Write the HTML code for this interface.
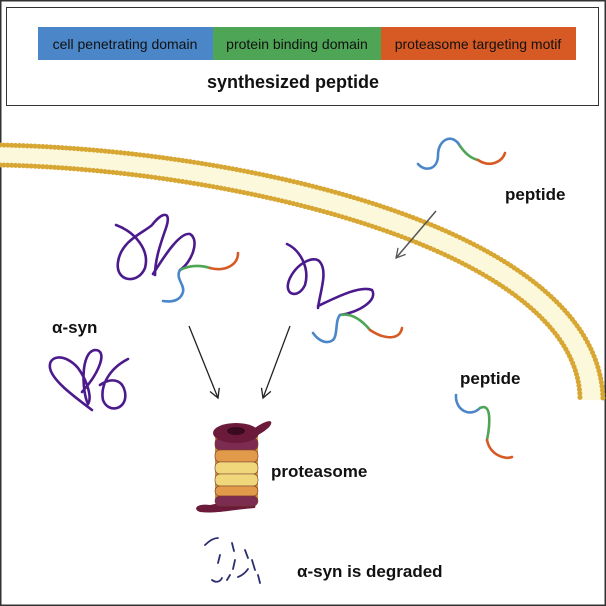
<!DOCTYPE html>
<html><head><meta charset="utf-8"><style>
html,body{margin:0;padding:0;background:#fff}
svg{display:block}
text{font-family:"Liberation Sans",Arial,sans-serif}
</style></head><body>
<svg width="606" height="606" viewBox="0 0 606 606" xmlns="http://www.w3.org/2000/svg">
<defs>
<marker id="ah" markerWidth="12" markerHeight="12" refX="10" refY="6" orient="auto" markerUnits="userSpaceOnUse">
<path d="M1,1 L10,6 L1,11" fill="none" stroke="#222" stroke-width="1.3"/></marker>
<marker id="ahg" markerWidth="12" markerHeight="12" refX="10" refY="6" orient="auto" markerUnits="userSpaceOnUse">
<path d="M1,1 L10,6 L1,11" fill="none" stroke="#555" stroke-width="1.3"/></marker>
</defs>
<rect x="0.5" y="0.5" width="605" height="605" fill="#fff" stroke="#333" stroke-width="2"/>
<rect x="6.5" y="7.5" width="592" height="98" fill="#fff" stroke="#333" stroke-width="1"/>
<rect x="38" y="27" width="175" height="33" fill="#4a86c8"/>
<rect x="213" y="27" width="168" height="33" fill="#4ea556"/>
<rect x="381" y="27" width="195" height="33" fill="#d75a25"/>
<text x="125" y="49" font-size="14" text-anchor="middle" fill="#111">cell penetrating domain</text>
<text x="297" y="49" font-size="14" text-anchor="middle" fill="#111">protein binding domain</text>
<text x="478" y="49" font-size="14" text-anchor="middle" fill="#111">proteasome targeting motif</text>
<text x="293" y="88" font-size="18" font-weight="bold" text-anchor="middle" fill="#111">synthesized peptide</text>

<!-- membrane -->
<path d="M0,145 C250,150 600,230 603,400 L580,400 C580,252 240,172 0,165 Z" fill="#fbf8dc"/>
<path d="M0,145 C250,150 600,230 603,400" fill="none" stroke="#d8a632" stroke-width="5" stroke-dasharray="0.1 3.8" stroke-linecap="round"/>
<path d="M0,165 C240,170 580,252 580,400" fill="none" stroke="#d8a632" stroke-width="5" stroke-dasharray="0.1 3.8" stroke-linecap="round"/>

<g fill="none" stroke-width="2.6" stroke-linecap="round">
<!-- top right peptide -->
<path d="M418,164 C425,172 438,170 438,155 C438,140 452,132 460,146" stroke="#4a86c8"/>
<path d="M460,146 C465,153 470,158 478,160" stroke="#4ea556"/>
<path d="M478,160 C490,168 502,162 505,153" stroke="#d75a25"/>
<!-- right peptide -->
<path d="M456,395 C455,410 470,418 480,408" stroke="#4a86c8"/>
<path d="M480,408 C492,402 490,425 487,440" stroke="#4ea556"/>
<path d="M487,440 C490,455 505,460 512,457" stroke="#d75a25"/>

<!-- alpha-syn cluster 1 -->
<path d="M116,225 C135,232 150,250 145,268 C138,285 115,282 118,262 C121,240 145,232 152,225 C162,212 172,210 166,228 C160,245 155,260 155,275 M153,274 C165,255 180,232 190,234 C200,240 192,262 180,270" stroke="#4b1a8c"/>
<path d="M180,270 C190,265 200,265 210,268" stroke="#4ea556"/>
<path d="M210,268 C225,272 238,265 238,253" stroke="#d75a25"/>
<path d="M180,270 C175,278 185,285 183,292 C180,302 170,302 163,301" stroke="#4a86c8"/>
<!-- alpha-syn cluster 2 -->
<path d="M287,244 C300,250 310,268 305,285 C298,300 282,295 290,278 C298,262 315,255 320,262 C328,272 320,292 318,308 M318,306 C335,298 360,285 372,290 C378,300 360,312 340,315" stroke="#4b1a8c"/>
<path d="M340,315 C350,313 360,318 370,330" stroke="#4ea556"/>
<path d="M370,330 C385,340 400,340 402,328" stroke="#d75a25"/>
<path d="M340,315 C335,320 338,335 333,340 C326,345 318,340 313,333" stroke="#4a86c8"/>
<!-- lone alpha-syn -->
<path d="M92,410 C72,395 52,380 50,368 C48,355 65,353 78,368 C88,382 92,398 88,404 C82,392 80,352 95,350 C108,350 100,372 82,392 M128,359 C110,368 100,385 103,400 C108,414 128,410 125,392 C122,378 110,378 100,385" stroke="#4b1a8c"/>
<!-- fragments -->
<path d="M205,545 C210,540 214,538 218,538 M220,555 l-2,8 M232,543 l2,8 M235,560 l-2,9 M245,550 l3,8 M252,560 l3,10 M230,575 l-3,5 M238,577 c5,-2 8,-5 10,-8 M212,580 c4,3 8,2 10,-2 M258,575 l2,8" stroke="#2c2f6e" stroke-width="1.8"/>
</g>

<!-- arrows -->
<line x1="436" y1="211" x2="396" y2="258" stroke="#555" stroke-width="1.5" marker-end="url(#ahg)"/>
<line x1="189" y1="326" x2="218" y2="398" stroke="#222" stroke-width="1.3" marker-end="url(#ah)"/>
<line x1="290" y1="326" x2="263" y2="398" stroke="#222" stroke-width="1.3" marker-end="url(#ah)"/>

<!-- proteasome -->
<g>
<path d="M210,505 C195,503 193,510 200,512 C215,514 230,510 255,508 L258,495 Z" fill="#6b1a3a"/>
<path d="M252,430 C265,420 275,418 270,426 C265,432 258,434 252,440 Z" fill="#6b1a3a"/>
<rect x="215" y="435" width="43" height="65" fill="#c98f40"/>
<g stroke="#7a3a2a" stroke-width="0.6">
<rect x="215" y="438" width="43" height="12" rx="5" fill="#7c2c50"/>
<rect x="215" y="450" width="43" height="12" rx="5" fill="#e09a4a"/>
<rect x="215" y="462" width="43" height="12" rx="5" fill="#f1d77c"/>
<rect x="215" y="474" width="43" height="12" rx="5" fill="#f1d77c"/>
<rect x="215" y="486" width="43" height="10" rx="5" fill="#e09a4a"/>
<rect x="215" y="496" width="43" height="10" rx="5" fill="#7c2c50"/>
</g>
<ellipse cx="236" cy="433" rx="23" ry="10" fill="#6b1a3a"/>
<ellipse cx="236" cy="431" rx="9" ry="4" fill="#3a0a20"/>
</g>

<text x="52" y="333" font-size="17" font-weight="bold" fill="#111">α-syn</text>
<text x="505" y="200" font-size="17" font-weight="bold" fill="#111">peptide</text>
<text x="460" y="384" font-size="17" font-weight="bold" fill="#111">peptide</text>
<text x="271" y="477" font-size="17" font-weight="bold" fill="#111">proteasome</text>
<text x="297" y="577" font-size="17" font-weight="bold" fill="#111">α-syn is degraded</text>
</svg>
</body></html>
